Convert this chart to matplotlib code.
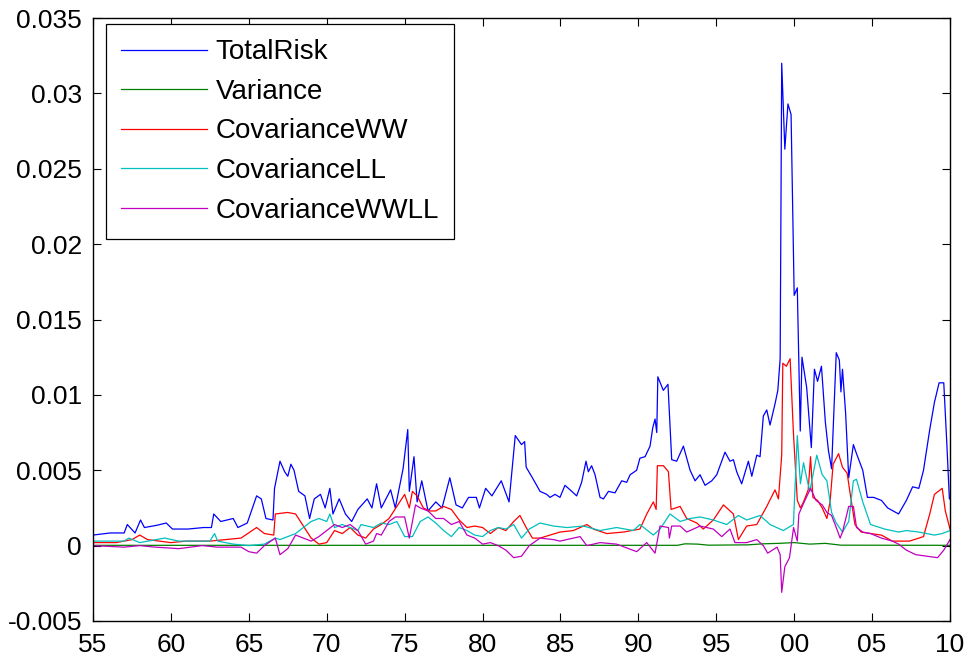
import matplotlib
matplotlib.use("Agg")
import matplotlib.pyplot as plt
from matplotlib.ticker import FuncFormatter

plt.rcParams['font.family'] = ['Liberation Sans', 'DejaVu Sans']

# values (decimal years, risk)
total_years = [1955.0, 1956.1, 1957.0, 1957.2, 1957.7, 1958.05, 1958.3, 1959.1, 1959.7, 1960.1,
               1961.1, 1962.1, 1962.6, 1962.75, 1963.2, 1964.0, 1964.3, 1964.9, 1965.5, 1965.8,
               1966.1, 1966.55, 1966.65, 1967.0, 1967.3, 1967.5, 1967.7, 1967.9, 1968.2, 1968.6,
               1968.9, 1969.2, 1969.6, 1969.9, 1970.2, 1970.4, 1970.8, 1971.2, 1971.6, 1972.0,
               1972.6, 1972.9, 1973.2, 1973.5, 1974.1, 1974.4, 1974.9, 1975.2, 1975.3, 1975.6,
               1975.8, 1976.1, 1976.5, 1977.0, 1977.4, 1977.9, 1978.3, 1978.7, 1979.1, 1979.6,
               1979.8, 1980.2, 1980.6, 1981.2, 1981.7, 1982.1, 1982.5, 1982.7, 1982.8, 1983.2,
               1983.69, 1984.12, 1984.33, 1984.65, 1984.97, 1985.29, 1985.62, 1986.04, 1986.36, 1986.64,
               1986.79, 1987.0, 1987.22, 1987.54, 1987.76, 1988.08, 1988.5, 1988.93, 1989.25, 1989.47,
               1989.89, 1990.1, 1990.43, 1990.75, 1990.92, 1991.07, 1991.18, 1991.25, 1991.6, 1991.9,
               1992.14, 1992.46, 1992.89, 1993.32, 1993.64, 1993.96, 1994.28, 1994.71, 1995.03, 1995.56,
               1995.88, 1996.1, 1996.31, 1996.63, 1997.06, 1997.28, 1997.6, 1997.81, 1998.02, 1998.24,
               1998.45, 1998.77, 1998.95, 1999.1, 1999.2, 1999.4, 1999.6, 1999.8, 2000.0, 2000.2,
               2000.39, 2000.5, 2000.8, 2001.1, 2001.3, 2001.5, 2001.75, 2002.0, 2002.2, 2002.4,
               2002.7, 2002.9, 2003.0, 2003.1, 2003.3, 2003.5, 2003.8, 2004.0, 2004.4, 2004.7,
               2005.1, 2005.6, 2006.0, 2006.7, 2007.2, 2007.6, 2008.0, 2008.3, 2008.7, 2009.0,
               2009.3, 2009.6, 2009.8, 2009.96, 2010.0]
total_risk = [0.0007, 0.00084, 0.00084, 0.0014, 0.00084, 0.0017, 0.0012, 0.00135, 0.0015, 0.0011,
              0.0011, 0.0012, 0.0012, 0.0021, 0.0016, 0.0018, 0.0012, 0.0015, 0.0033, 0.0031,
              0.0018, 0.0017, 0.0038, 0.0056, 0.0049, 0.0046, 0.0054, 0.005, 0.0036, 0.0033,
              0.0018, 0.0031, 0.0034, 0.0025, 0.0038, 0.0021, 0.0031, 0.0021, 0.0016, 0.0024,
              0.0031, 0.0025, 0.0041, 0.0025, 0.0037, 0.0025, 0.0051, 0.0077, 0.0036, 0.0059,
              0.0029, 0.0043, 0.0023, 0.0029, 0.0025, 0.0045, 0.0027, 0.0025, 0.0032, 0.0032,
              0.0025, 0.0038, 0.0033, 0.0043, 0.0029, 0.0073, 0.0067, 0.0069, 0.0052, 0.0045,
              0.0036, 0.0034, 0.0032, 0.0034, 0.0032, 0.004, 0.0037, 0.0033, 0.0042, 0.0056,
              0.0049, 0.0053, 0.0047, 0.0032, 0.0031, 0.0036, 0.0035, 0.0043, 0.0042, 0.0047,
              0.005, 0.0058, 0.0059, 0.0066, 0.0078, 0.0084, 0.0075, 0.0112, 0.0103, 0.0107,
              0.0057, 0.0056, 0.0066, 0.005, 0.0043, 0.0047, 0.004, 0.0043, 0.0047, 0.0062,
              0.0056, 0.0057, 0.0049, 0.0041, 0.0056, 0.0046, 0.006, 0.0059, 0.0086, 0.009,
              0.008, 0.0094, 0.0103, 0.0124, 0.032, 0.0263, 0.0293, 0.0286, 0.0166, 0.0171,
              0.0076, 0.0125, 0.0105, 0.0065, 0.0117, 0.0109, 0.0119, 0.0082, 0.0063, 0.0051,
              0.0128, 0.0123, 0.0102, 0.0117, 0.0088, 0.0045, 0.0067, 0.0061, 0.005, 0.0032,
              0.0032, 0.003, 0.0025, 0.0021, 0.003, 0.0039, 0.0038, 0.005, 0.0077, 0.0095,
              0.0108, 0.0108, 0.0067, 0.0031, 0.0031]

var_years = [1955.0, 1992.5, 1993.0, 1993.8, 1994.5, 1997.0, 1998.0, 1999.0, 2000.0, 2001.0,
             2002.0, 2003.0, 2010.0]
variance = [0.00002, 0.00002, 0.00012, 0.0001, 0.00003, 0.00005, 0.00012, 0.00015, 0.0002, 0.0001,
            0.00015, 0.00003, 0.00002]

ww_years = [1955.0, 1956.5, 1957.5, 1958.0, 1958.5, 1960.0, 1961.0, 1962.5, 1963.5, 1964.5,
            1965.5, 1966.0, 1966.6, 1966.7, 1967.5, 1968.0, 1968.5, 1969.0, 1969.5, 1970.0,
            1970.5, 1971.0, 1971.5, 1972.0, 1972.5, 1973.0, 1973.5, 1974.0, 1974.5, 1975.0,
            1975.3, 1975.5, 1975.8, 1976.2, 1976.6, 1977.0, 1977.5, 1978.0, 1978.5, 1979.0,
            1979.5, 1980.0, 1980.5, 1981.0, 1981.5, 1982.0, 1982.4, 1982.8, 1983.2, 1983.69,
            1984.33, 1984.97, 1985.83, 1986.69, 1987.11, 1987.97, 1989.04, 1990.1, 1990.54, 1990.96,
            1991.14, 1991.22, 1991.61, 1991.93, 1992.1, 1992.68, 1993.1, 1993.75, 1994.17, 1994.81,
            1995.46, 1995.78, 1996.1, 1996.42, 1996.95, 1997.6, 1998.24, 1998.77, 1998.99, 1999.09,
            1999.2, 1999.27, 1999.5, 1999.74, 1999.95, 2000.2, 2000.4, 2000.6, 2000.9, 2001.05,
            2001.2, 2001.5, 2001.8, 2002.1, 2002.3, 2002.5, 2002.85, 2003.1, 2003.4, 2003.6,
            2003.9, 2004.3, 2004.9, 2005.6, 2006.3, 2007.4, 2008.3, 2008.7, 2009.0, 2009.5,
            2009.7, 2010.0]
cov_ww = [0.0002, 0.0002, 0.0004, 0.0007, 0.0004, 0.0002, 0.0003, 0.0003, 0.0004, 0.0005,
          0.0012, 0.0008, 0.0007, 0.0021, 0.0022, 0.0021, 0.0013, 0.0005, 0.0001, 0.0002,
          0.001, 0.0008, 0.0012, 0.0007, 0.0005, 0.0011, 0.0014, 0.0018, 0.0026, 0.0034,
          0.0025, 0.0036, 0.0033, 0.0025, 0.0023, 0.0023, 0.0026, 0.0024, 0.0017, 0.0012,
          0.0013, 0.0012, 0.0008, 0.0012, 0.001, 0.0016, 0.002, 0.0012, 0.0005, 0.0005,
          0.0007, 0.0009, 0.001, 0.0014, 0.0011, 0.0008, 0.0009, 0.0011, 0.0021, 0.0029,
          0.0024, 0.0053, 0.0053, 0.0049, 0.0024, 0.0026, 0.0018, 0.0015, 0.0011, 0.0017,
          0.0027, 0.0024, 0.0021, 0.0004, 0.0013, 0.0014, 0.0026, 0.0037, 0.0031, 0.0045,
          0.006, 0.0121, 0.0119, 0.0124, 0.0075, 0.003, 0.0025, 0.0029, 0.0037, 0.0059,
          0.0032, 0.003, 0.0025, 0.0018, 0.0029, 0.0054, 0.0061, 0.0052, 0.0048, 0.0034,
          0.0014, 0.0009, 0.0008, 0.0007, 0.0003, 0.0003, 0.0006, 0.0021, 0.0034, 0.0038,
          0.0023, 0.0011]

ll_years = [1955.0, 1957.0, 1957.3, 1958.0, 1959.6, 1960.5, 1962.5, 1962.8, 1963.0, 1964.0,
            1965.0, 1966.0, 1966.7, 1967.0, 1967.5, 1968.0, 1968.5, 1969.0, 1969.5, 1970.0,
            1970.2, 1970.5, 1971.0, 1971.5, 1972.0, 1972.2, 1973.0, 1973.5, 1974.0, 1974.5,
            1975.0, 1975.5, 1976.0, 1976.5, 1977.0, 1977.5, 1978.0, 1978.5, 1979.0, 1979.5,
            1980.0, 1980.5, 1981.0, 1981.5, 1982.0, 1982.5, 1983.0, 1983.69, 1984.55, 1985.4,
            1986.47, 1987.54, 1988.6, 1989.68, 1990.1, 1990.96, 1991.39, 1992.03, 1992.68, 1993.32,
            1993.96, 1994.81, 1995.67, 1996.42, 1996.95, 1997.81, 1998.45, 1999.3, 1999.95, 2000.2,
            2000.4, 2000.6, 2000.8, 2001.0, 2001.45, 2001.8, 2002.1, 2002.4, 2002.7, 2003.1,
            2003.5, 2003.8, 2004.0, 2004.4, 2004.9, 2005.8, 2006.7, 2007.2, 2008.0, 2009.0,
            2009.5, 2010.0]
cov_ll = [0.0003, 0.0003, 0.0005, 0.0002, 0.0005, 0.0003, 0.0003, 0.0008, 0.0003, 0.0001,
          0.0, 0.0001, 0.0005, 0.0004, 0.0006, 0.0008, 0.0012, 0.0016, 0.0018, 0.0016,
          0.0021, 0.0012, 0.0014, 0.0012, 0.001, 0.0014, 0.0012, 0.0015, 0.0014, 0.0016,
          0.0006, 0.0006, 0.0016, 0.0019, 0.0015, 0.001, 0.0006, 0.0012, 0.001, 0.0007,
          0.0006, 0.001, 0.0012, 0.0011, 0.0014, 0.0005, 0.0011, 0.0015, 0.0013, 0.0012,
          0.0013, 0.001, 0.0012, 0.001, 0.0014, 0.0007, 0.0011, 0.0021, 0.0016, 0.0018,
          0.0019, 0.0017, 0.0014, 0.002, 0.0017, 0.002, 0.0014, 0.001, 0.0014, 0.0073,
          0.0041, 0.0055, 0.0045, 0.0036, 0.006, 0.0047, 0.0043, 0.0022, 0.0015, 0.0009,
          0.0016, 0.0043, 0.0044, 0.0029, 0.0014, 0.0011, 0.0009, 0.001, 0.0009, 0.0007,
          0.0008, 0.001]

wwll_years = [1955.0, 1957.0, 1958.0, 1959.0, 1960.5, 1962.0, 1963.0, 1964.5, 1965.0, 1965.5,
              1966.0, 1966.7, 1967.0, 1967.5, 1968.0, 1968.5, 1969.0, 1969.5, 1970.0, 1970.5,
              1971.0, 1971.5, 1972.0, 1972.5, 1973.0, 1973.2, 1973.5, 1974.0, 1974.4, 1975.0,
              1975.3, 1975.7, 1976.0, 1976.5, 1977.0, 1977.5, 1978.0, 1978.5, 1979.0, 1979.5,
              1980.0, 1980.5, 1981.0, 1981.5, 1982.0, 1982.5, 1983.0, 1983.69, 1984.55, 1984.97,
              1986.26, 1986.69, 1987.54, 1988.6, 1989.89, 1990.54, 1991.07, 1991.39, 1991.93, 1991.99,
              1992.14, 1992.68, 1993.1, 1993.96, 1994.81, 1995.35, 1995.88, 1996.2, 1996.95, 1997.6,
              1998.02, 1998.3, 1998.9, 1999.1, 1999.2, 1999.4, 1999.7, 1999.96, 2000.2, 2000.3,
              2000.6, 2001.05, 2001.4, 2001.8, 2002.1, 2002.4, 2002.7, 2002.95, 2003.1, 2003.5,
              2003.8, 2004.0, 2004.4, 2004.9, 2005.6, 2006.3, 2006.7, 2007.2, 2007.8, 2008.5,
              2009.2, 2009.6, 2010.0]
cov_wwll = [0.0, -0.0001, 0.0, -0.0001, -0.0002, 0.0, -0.0001, -0.0001, -0.0004, -0.0005,
            0.0, 0.0005, -0.0006, -0.0002, 0.0007, 0.0005, 0.0003, 0.0006, 0.001, 0.0014,
            0.0012, 0.0014, 0.001, 0.0001, 0.0003, 0.0008, 0.0007, 0.0016, 0.0019, 0.0019,
            0.0005, 0.0027, 0.0025, 0.0023, 0.0018, 0.0018, 0.0014, 0.0016, 0.0007, 0.0005,
            0.0001, 0.0002, 0.0, -0.0003, -0.0008, -0.0007, 0.0, 0.0005, 0.0004, 0.0003,
            0.0006, 0.0, 0.0002, 0.0001, -0.0004, 0.0002, -0.0005, 0.0013, 0.0012, 0.0005,
            0.0013, 0.0013, 0.0009, 0.0013, 0.0011, 0.0006, 0.0011, 0.0002, 0.0002, 0.0004,
            0.0, -0.0005, -0.0001, -0.0006, -0.0031, -0.0014, -0.0008, 0.0012, 0.0003, 0.0021,
            0.0028, 0.0038, 0.003, 0.0027, 0.0022, 0.002, 0.0012, 0.0005, 0.0009, 0.0026,
            0.0026, 0.0012, 0.0009, 0.0008, 0.0005, 0.0003, 0.0001, -0.0003, -0.0006, -0.0007,
            -0.0008, -0.0003, 0.0004]

series = [
    (total_years, total_risk, 'TotalRisk', (0, 0, 1)),
    (var_years, variance, 'Variance', (0, 0.5, 0)),
    (ww_years, cov_ww, 'CovarianceWW', (1, 0, 0)),
    (ll_years, cov_ll, 'CovarianceLL', (0, 0.75, 0.75)),
    (wwll_years, cov_wwll, 'CovarianceWWLL', (0.75, 0, 0.75)),
]

x_ticks = list(range(1955, 2011, 5))
y_ticks = [-0.005, 0, 0.005, 0.01, 0.015, 0.02, 0.025, 0.03, 0.035]

fig = plt.figure(figsize=(9.69, 6.64), dpi=100)
ax = fig.add_axes([93 / 969, 43 / 664, 857 / 969, 603 / 664])

for xs, ys, name, col in series:
    ax.plot(xs, ys, color=col, lw=0.9, label=name)

ax.set_xlim(1955, 2010)
ax.set_ylim(-0.005, 0.035)
ax.set_xticks(x_ticks)
ax.set_yticks(y_ticks)
ax.xaxis.set_major_formatter(FuncFormatter(lambda v, p: '%02d' % (int(round(v)) % 100)))
ax.yaxis.set_major_formatter(FuncFormatter(lambda v, p: '%g' % v))
ax.tick_params(direction='in', length=6, width=0.8, top=True, right=True, labelsize=19)
ax.tick_params(axis='x', pad=9)
ax.tick_params(axis='y', pad=8)
for sp in ax.spines.values():
    sp.set_linewidth(1.0)

leg = ax.legend(loc='upper left', bbox_to_anchor=(13 / 857, 597 / 603), borderaxespad=0,
                fontsize=20, handlelength=3.1, handletextpad=0.3, labelspacing=0.49,
                borderpad=0.55, fancybox=False, framealpha=1, edgecolor='black')
leg.get_frame().set_linewidth(0.9)

fig.savefig('out.png', dpi=100)
